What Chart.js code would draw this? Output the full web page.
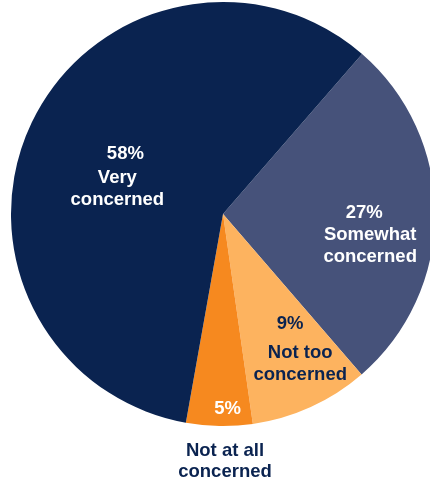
<!DOCTYPE html>
<html>
<head>
<meta charset="utf-8">
<script src="https://cdn.jsdelivr.net/npm/chart.js@4"></script>
<style>
  html, body { margin: 0; padding: 0; background: #fff; width: 430px; height: 485px; overflow: hidden; }
  #wrap { position: absolute; left: 0; top: 0; width: 446px; height: 485px; }
</style>
</head>
<body>
<div id="wrap"><canvas id="pieChart" width="446" height="485"></canvas></div>
<script>
// data, clockwise from the upper right
const categories = [["Somewhat", "concerned"], ["Not too", "concerned"], ["Not at all", "concerned"], ["Very", "concerned"]];
const shares = [27, 9, 5, 58];
const sliceColors = ["#46527a", "#fdb35f", "#f6891f", "#0a2350"];
const textColors = ["#ffffff", "#0a2350", "#ffffff", "#ffffff"];

// where each label sits: fraction of radius along the slice middle, plus nudges
const labelPlace = [
  { frac: 0.68, dx: 3, dy: 21, pdx: -6, pdy: 22 },
  { frac: 0.72, dx: 14, dy: 0, pdx: -10, pdy: 29 },
  { frac: 0.915, dx: 8, dy: 1, pdx: 0, pdy: 0 },
  { frac: 0.50, dx: -10, dy: 10, pdx: 8, pdy: 24 }
];
const outsideIndex = 2;

const navy = "#0a2350";

const sliceLabels = {
  id: "sliceLabels",
  afterDatasetsDraw(chart) {
    const ctx = chart.ctx;
    const arcs = chart.getDatasetMeta(0).data;
    ctx.save();
    ctx.font = "bold 18.5px 'Liberation Sans', Arial, sans-serif";
    ctx.textAlign = "center";
    ctx.textBaseline = "middle";
    arcs.forEach((arc, i) => {
      const p = arc.getProps(["x", "y", "startAngle", "endAngle", "outerRadius"], true);
      const mid = (p.startAngle + p.endAngle) / 2;
      const place = labelPlace[i];
      const cx = p.x + Math.cos(mid) * p.outerRadius * place.frac + place.dx;
      const cy = p.y + Math.sin(mid) * p.outerRadius * place.frac + place.dy;
      const pct = shares[i] + "%";
      ctx.fillStyle = textColors[i];
      if (i === outsideIndex) {
        ctx.fillText(pct, cx, cy);
        ctx.fillStyle = navy;
        const oy = p.y + p.outerRadius + 25;
        categories[i].forEach((line, k) => ctx.fillText(line, p.x + 2, oy + k * 21));
        return;
      }
      ctx.fillText(pct, cx + place.pdx, cy - place.pdy);
      categories[i].forEach((line, k) => ctx.fillText(line, cx, cy + k * 21.5));
    });
    ctx.restore();
  }
};

new Chart(document.getElementById("pieChart").getContext("2d"), {
  type: "pie",
  data: {
    labels: categories.map(c => c.join(" ")),
    datasets: [{
      data: shares,
      backgroundColor: sliceColors,
      borderWidth: 0
    }]
  },
  options: {
    responsive: false,
    devicePixelRatio: 1,
    animation: false,
    rotation: 41,
    layout: { padding: { top: 2, left: 2, right: 2, bottom: 59 } },
    plugins: {
      legend: { display: false },
      tooltip: { enabled: false }
    }
  },
  plugins: [sliceLabels]
});
</script>
</body>
</html>
